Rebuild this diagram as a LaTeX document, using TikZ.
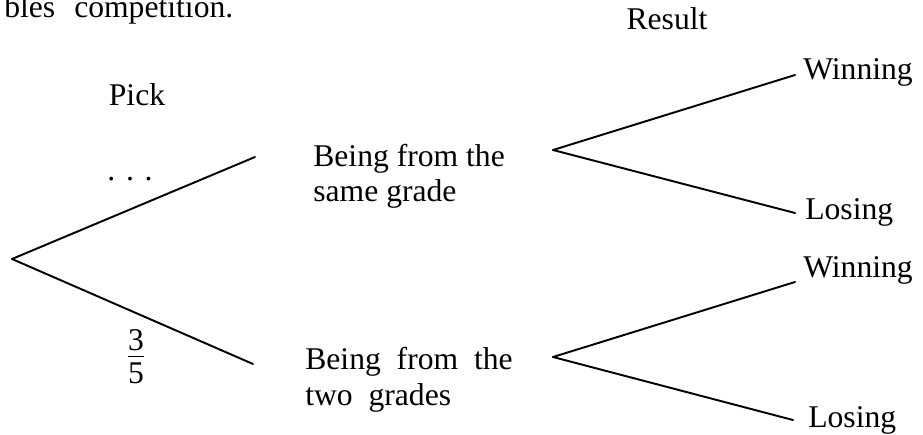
\documentclass[tikz,border=0pt]{standalone}
\usepackage{fontspec}
\setmainfont{Liberation Serif}
\newcommand{\widewords}{\spaceskip=0.5em\relax}
\newcommand{\headwords}{\spaceskip=0.6em\relax}
\tikzstyle{caption} = [font=\fontsize{18}{20}\selectfont, inner sep=0pt]
\tikzstyle{widecaption} = [font={\fontsize{18}{20.5}\selectfont\widewords}, inner sep=0pt]
\tikzstyle{choice} = [caption, align=left, anchor=west]
\tikzstyle{outcome} = [caption, anchor=base west]
\tikzstyle{branch} = [line width=1.1pt, line cap=round, line join=round]

\begin{document}
\begin{tikzpicture}[x=0.02cm, y=-0.02cm]
\useasboundingbox (0,0) rectangle (923,435);

% Nodes
\coordinate (root) at (12,259);
\coordinate (same) at (255,157);
\coordinate (two) at (253,364);
\coordinate (fork1) at (553,150);
\coordinate (fork2) at (553,357);
\coordinate (w1) at (795,75);
\coordinate (l1) at (795,213);
\coordinate (w2) at (795,282);
\coordinate (l2) at (793,420);

\node (head) [caption, font={\fontsize{18}{20}\selectfont\headwords}, anchor=base west] at (4,18) {bles competition.};
\node (pick) [caption, anchor=base] at (137,106) {Pick};
\node (result) [caption, anchor=base] at (667,30) {Result};
\node (dots) [caption, anchor=base] at (130,181) {.\hspace{0.34em}.\hspace{0.34em}.};
\node (frac) [caption] at (136,357) {$\frac{\mbox{\rule[-2.5pt]{0pt}{2.5pt}3}}{\mbox{\rule{0pt}{15pt}5}}$};

\node (sametxt) [choice] at (313,176) {Being from the\\same grade};
\node (twotxt) [choice, widecaption] at (305,380) {Being from the\\two grades};

\node (win1) [outcome] at (803,80) {Winning};
\node (lose1) [outcome] at (805,220) {Losing};
\node (win2) [outcome] at (803,278) {Winning};
\node (lose2) [outcome] at (808,428) {Losing};

% Connections
\draw [branch] (root) -- (same);
\draw [branch] (root) -- (two);

\draw [branch] (fork1) -- (w1);
\draw [branch] (fork1) -- (l1);

\draw [branch] (fork2) -- (w2);
\draw [branch] (fork2) -- (l2);

\end{tikzpicture}
\end{document}
